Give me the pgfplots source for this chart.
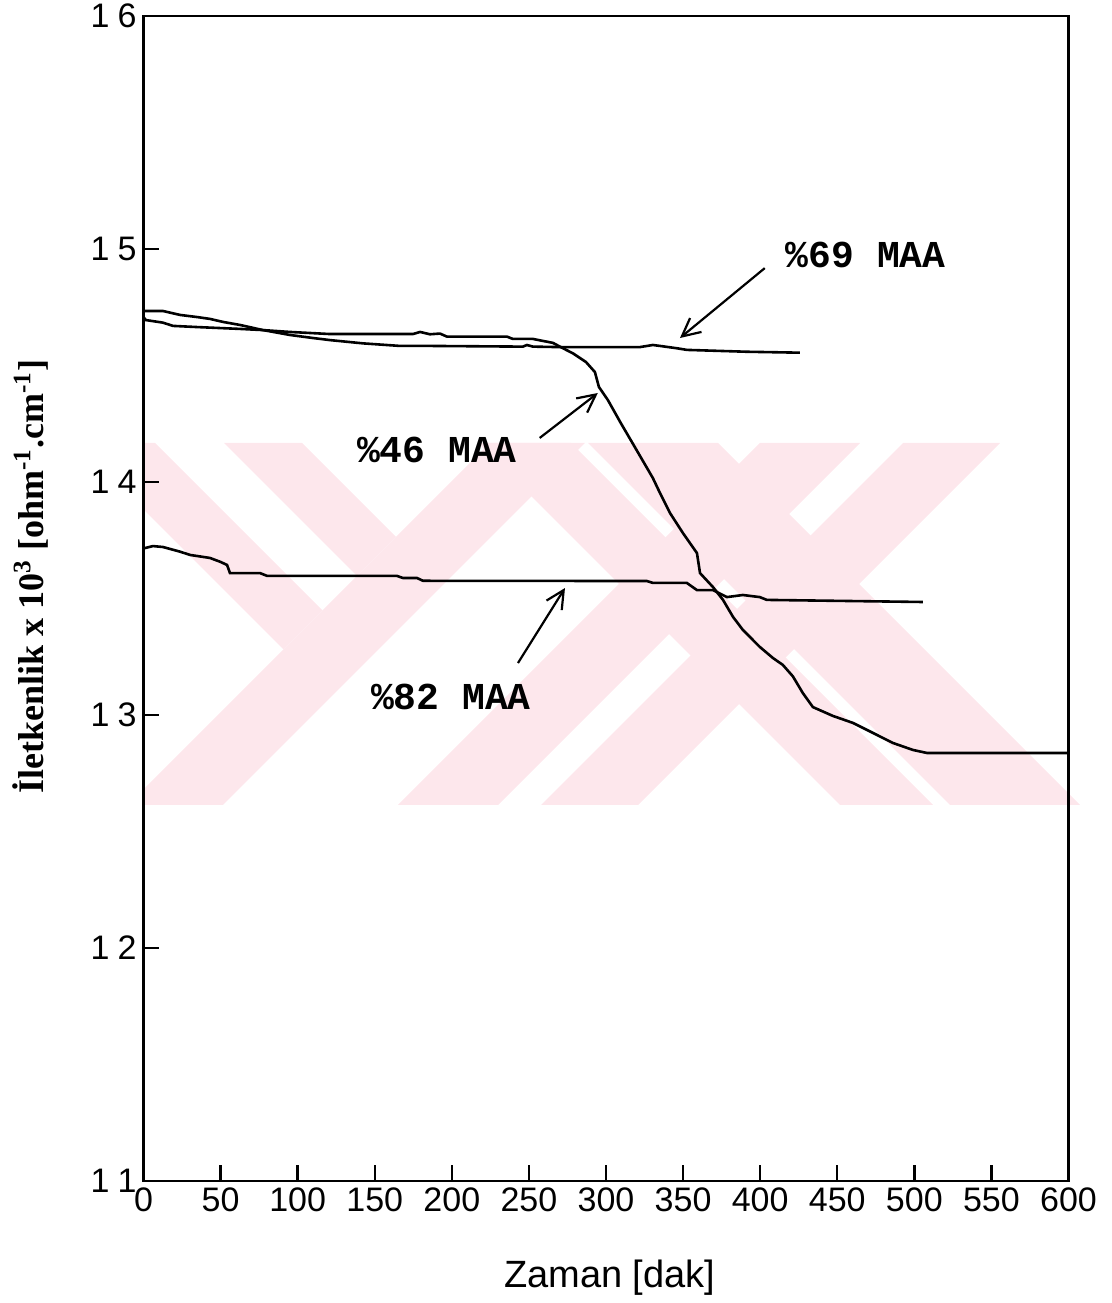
\documentclass[border=0pt]{standalone}
\usepackage{pgfplots}
\pgfplotsset{compat=1.18}
\usepackage{fontspec}
\setmainfont{Liberation Sans}
\newfontfamily\labelserif{Liberation Serif}
\newfontfamily\annotfont{Liberation Mono}
\usetikzlibrary{arrows.meta}
\definecolor{wmpink}{RGB}{253,231,236}

% conductivity time series
\pgfplotstableread{
x y
0 14.734
12.6 14.734
23.7 14.717
34.7 14.708
43.1 14.700
51.6 14.687
62.6 14.674
77.5 14.652
95.0 14.631
109.9 14.618
121 14.609
142.4 14.595
166.4 14.584
185.8 14.584
246.1 14.581
248.7 14.588
252.6 14.581
270.1 14.579
322 14.579
330.4 14.588
335 14.584
346 14.574
352.4 14.567
391.4 14.559
425.7 14.555
}\maasixtynine

\pgfplotstableread{
x y
0 14.708
1.5 14.695
12.6 14.684
19.1 14.670
34.7 14.665
62.6 14.657
77.5 14.652
95 14.644
121 14.635
174.8 14.635
179.4 14.644
185.8 14.634
192.3 14.637
196.8 14.624
235.7 14.624
239.6 14.614
252.6 14.614
265.6 14.597
272.1 14.574
278.6 14.552
287 14.515
292.8 14.472
295.4 14.408
301.2 14.352
309.6 14.253
318.7 14.150
330.4 14.017
335 13.953
341.5 13.867
349.9 13.781
359 13.695
361 13.609
369.4 13.549
375.9 13.494
382.4 13.421
388.8 13.365
399.8 13.292
408.2 13.245
414.7 13.215
421.2 13.166
427.7 13.094
434.2 13.034
447.2 12.996
460.2 12.966
473.2 12.923
486.1 12.880
499.1 12.850
508.2 12.837
600 12.837
}\maafortysix

\pgfplotstableread{
x y
0 13.715
6.2 13.725
12.6 13.721
23.7 13.701
30.2 13.687
43.1 13.674
49.6 13.658
54.2 13.644
56.1 13.609
75.6 13.609
80.2 13.597
164.4 13.597
168.3 13.588
177.4 13.588
181.3 13.576
326.5 13.575
330.4 13.567
352.4 13.567
359 13.536
369.4 13.536
378.4 13.506
388.8 13.515
399.8 13.506
404.3 13.494
505.5 13.485
}\maaeightytwo

\begin{document}
\begin{tikzpicture}
% faint background emblem, built from diagonal strokes
\begin{scope}[x=0.5pt,y=-0.5pt,shift={(-71.75pt,590.5pt)}]
  \clip (143,443) rectangle (1085,805);
  % two strokes descending to the right, stopping at the long rising stroke
  \fill[wmpink] (77,443) -- (155,443) -- (322.5,610.5) -- (283.5,649.5) -- cycle;
  \fill[wmpink] (224,443) -- (302,443) -- (396,537) -- (357,576) -- cycle;
  % long rising stroke
  \fill[wmpink] (490,443) -- (585,443) -- (223,805) -- (128,805) -- cycle;
  % crossing strokes
  \fill[wmpink] (478,443) -- (571,443) -- (933,805) -- (840,805) -- cycle;
  \fill[wmpink] (588,443) -- (718,443) -- (1080,805) -- (950,805) -- cycle;
  \fill[wmpink] (760,443) -- (860,443) -- (498,805) -- (398,805) -- cycle;
  \fill[wmpink] (903,443) -- (1000,443) -- (638,805) -- (541,805) -- cycle;
\end{scope}
\begin{axis}[
  at={(0,0)}, anchor=south west,
  width=462.5pt, height=582.5pt, scale only axis,
  xmin=0, xmax=600, ymin=11, ymax=16,
  xtick={0,50,...,600},
  ytick={11,12,13,14,15,16},
  yticklabels={1\kern4pt1,1\kern4pt2,1\kern4pt3,1\kern4pt4,1\kern4pt5,1\kern4pt6},
  minor tick num=0,
  tick pos=left,
  tick align=inside,
  major tick length=8pt,
  axis line style={line width=1.4pt},
  every tick/.style={black, line width=1.2pt},
  tick label style={font=\fontsize{17}{17}\selectfont},
  /pgf/number format/assume math mode=true,
  xlabel={Zaman [dak]},
  xlabel style={font=\fontsize{19}{19}\selectfont, at={(axis description cs:0.504,0)}, anchor=center, yshift=-48.5pt},
  ylabel={\labelserif\bfseries İletkenlik x 10\textsuperscript{3} [ohm\textsuperscript{-1}.cm\textsuperscript{-1}]},
  ylabel style={font=\fontsize{18}{18}\selectfont, at={(axis description cs:-0.1227,0.519)}, anchor=center},
]
\addplot[black, line width=1.3pt, no markers] table[x=x,y=y] {\maasixtynine};
\addplot[black, line width=1.3pt, no markers] table[x=x,y=y] {\maafortysix};
\addplot[black, line width=1.3pt, no markers] table[x=x,y=y] {\maaeightytwo};

\draw[-{Straight Barb[length=9pt,width=9pt]}, line width=1.1pt] (axis cs:403,14.918) -- (axis cs:348,14.618);
\draw[-{Straight Barb[length=9pt,width=9pt]}, line width=1.1pt] (axis cs:257,14.189) -- (axis cs:294.7,14.382);
\draw[-{Straight Barb[length=9pt,width=9pt]}, line width=1.1pt] (axis cs:242.9,13.223) -- (axis cs:273.4,13.545);

\node[font=\annotfont\bfseries\fontsize{19}{19}\selectfont] at (axis cs:468.5,14.974) {\%69 MAA};
\node[font=\annotfont\bfseries\fontsize{19}{19}\selectfont] at (axis cs:190.3,14.137) {\%46 MAA};
\node[font=\annotfont\bfseries\fontsize{19}{19}\selectfont] at (axis cs:199.4,13.077) {\%82 MAA};
\end{axis}
\pgfresetboundingbox
\path (-71.75pt,-61pt) rectangle (484.25pt,590.5pt);
\end{tikzpicture}
\end{document}
